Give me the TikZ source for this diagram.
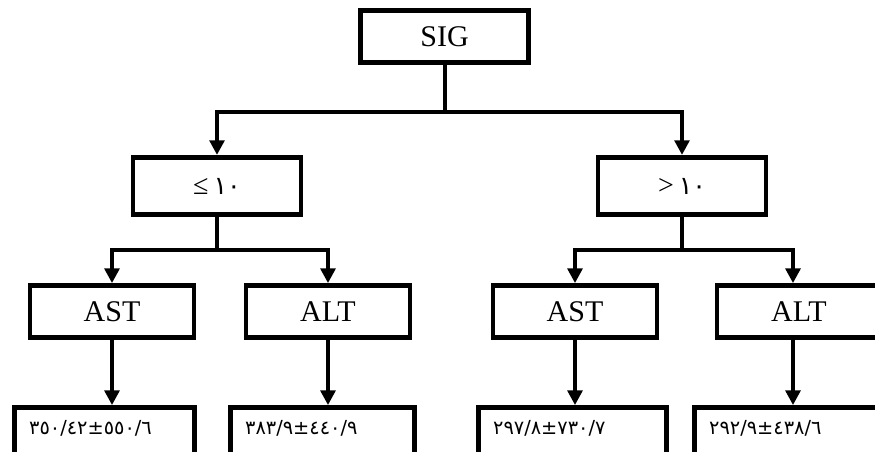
\documentclass[tikz,border=0pt]{standalone}
\usepackage{fontspec}
\setmainfont{Liberation Serif}
\newfontfamily\arabicfont[Script=Arabic]{DejaVu Sans}
\usetikzlibrary{arrows.meta}

\tikzset{
  box/.style={draw, line width=3.6pt, inner sep=0pt, minimum height=39pt,
    font=\fontsize{22.5}{22.5}\selectfont},
  val/.style={box, align=left, inner xsep=11pt, text width=#1,
    text height=10pt, text depth=8pt,
    font=\arabicfont\fontsize{14.5}{14.5}\selectfont},
  conn/.style={line width=3pt, -{Triangle[length=11pt,width=11pt]}},
  bar/.style={line width=3pt},
}

\begin{document}
\begin{tikzpicture}[x=0.75pt,y=-0.75pt]
  \clip (0,0) rectangle (875,451);
  % top and group boxes
  \node[box, minimum width=126pt] (sig) at (444.5,36.5) {SIG};
  \node[box, minimum width=126pt, minimum height=43pt] (low) at (217,186)
    {\mbox{\fontsize{21}{21}\selectfont ≤}\,{\arabicfont\fontsize{19}{19}\selectfont ١٠}};
  \node[box, minimum width=126pt, minimum height=43pt] (high) at (682,186)
    {\mbox{\fontsize{21}{21}\selectfont >}\,{\arabicfont\fontsize{19}{19}\selectfont ١٠}};
  % enzyme boxes
  \node[box, minimum width=123pt] (astlow) at (112,311.5) {AST};
  \node[box, minimum width=123pt] (altlow) at (328,311.5) {ALT};
  \node[box, minimum width=123pt] (asthigh) at (575,311.5) {AST};
  \node[box, minimum width=123pt] (althigh) at (799,311.5) {ALT};
  % value boxes
  \node[val=113pt] (vastlow) at (104.5,433.5)
    {\mbox{٣٥٠/٤٢}\mbox{±}\mbox{٥٥٠/٦}};
  \node[val=116pt] (valtlow) at (322.5,433.5)
    {\mbox{٣٨٣/٩}\mbox{±}\mbox{٤٤٠/٩}};
  \node[val=119pt] (vasthigh) at (572.5,433.5)
    {\mbox{٢٩٧/٨}\mbox{±}\mbox{٧٣٠/٧}};
  \node[val=119pt] (valthigh) at (788.5,433.5)
    {\mbox{٢٩٢/٩}\mbox{±}\mbox{٤٣٨/٦}};
  % junctions
  \coordinate (jtop) at (444.5,112);
  \coordinate (jlow) at (217,250);
  \coordinate (jhigh) at (682,250);
  % connectors
  \draw[bar] (sig) -- (jtop);
  \draw[conn] (jtop) -| (low);
  \draw[conn] (jtop) -| (high);
  \draw[bar] (low) -- (jlow);
  \draw[conn] (jlow) -| (astlow);
  \draw[conn] (jlow) -| (altlow);
  \draw[bar] (high) -- (jhigh);
  \draw[conn] (jhigh) -| (asthigh);
  \draw[conn] (jhigh) -| ([xshift=-4.5pt]althigh.north);
  \draw[conn] (astlow) -- (astlow |- vastlow.north);
  \draw[conn] (altlow) -- (altlow |- valtlow.north);
  \draw[conn] (asthigh) -- (asthigh |- vasthigh.north);
  \draw[conn] ([xshift=-4.5pt]althigh.south) -- ([xshift=-4.5pt]althigh.south |- valthigh.north);
\end{tikzpicture}
\end{document}
